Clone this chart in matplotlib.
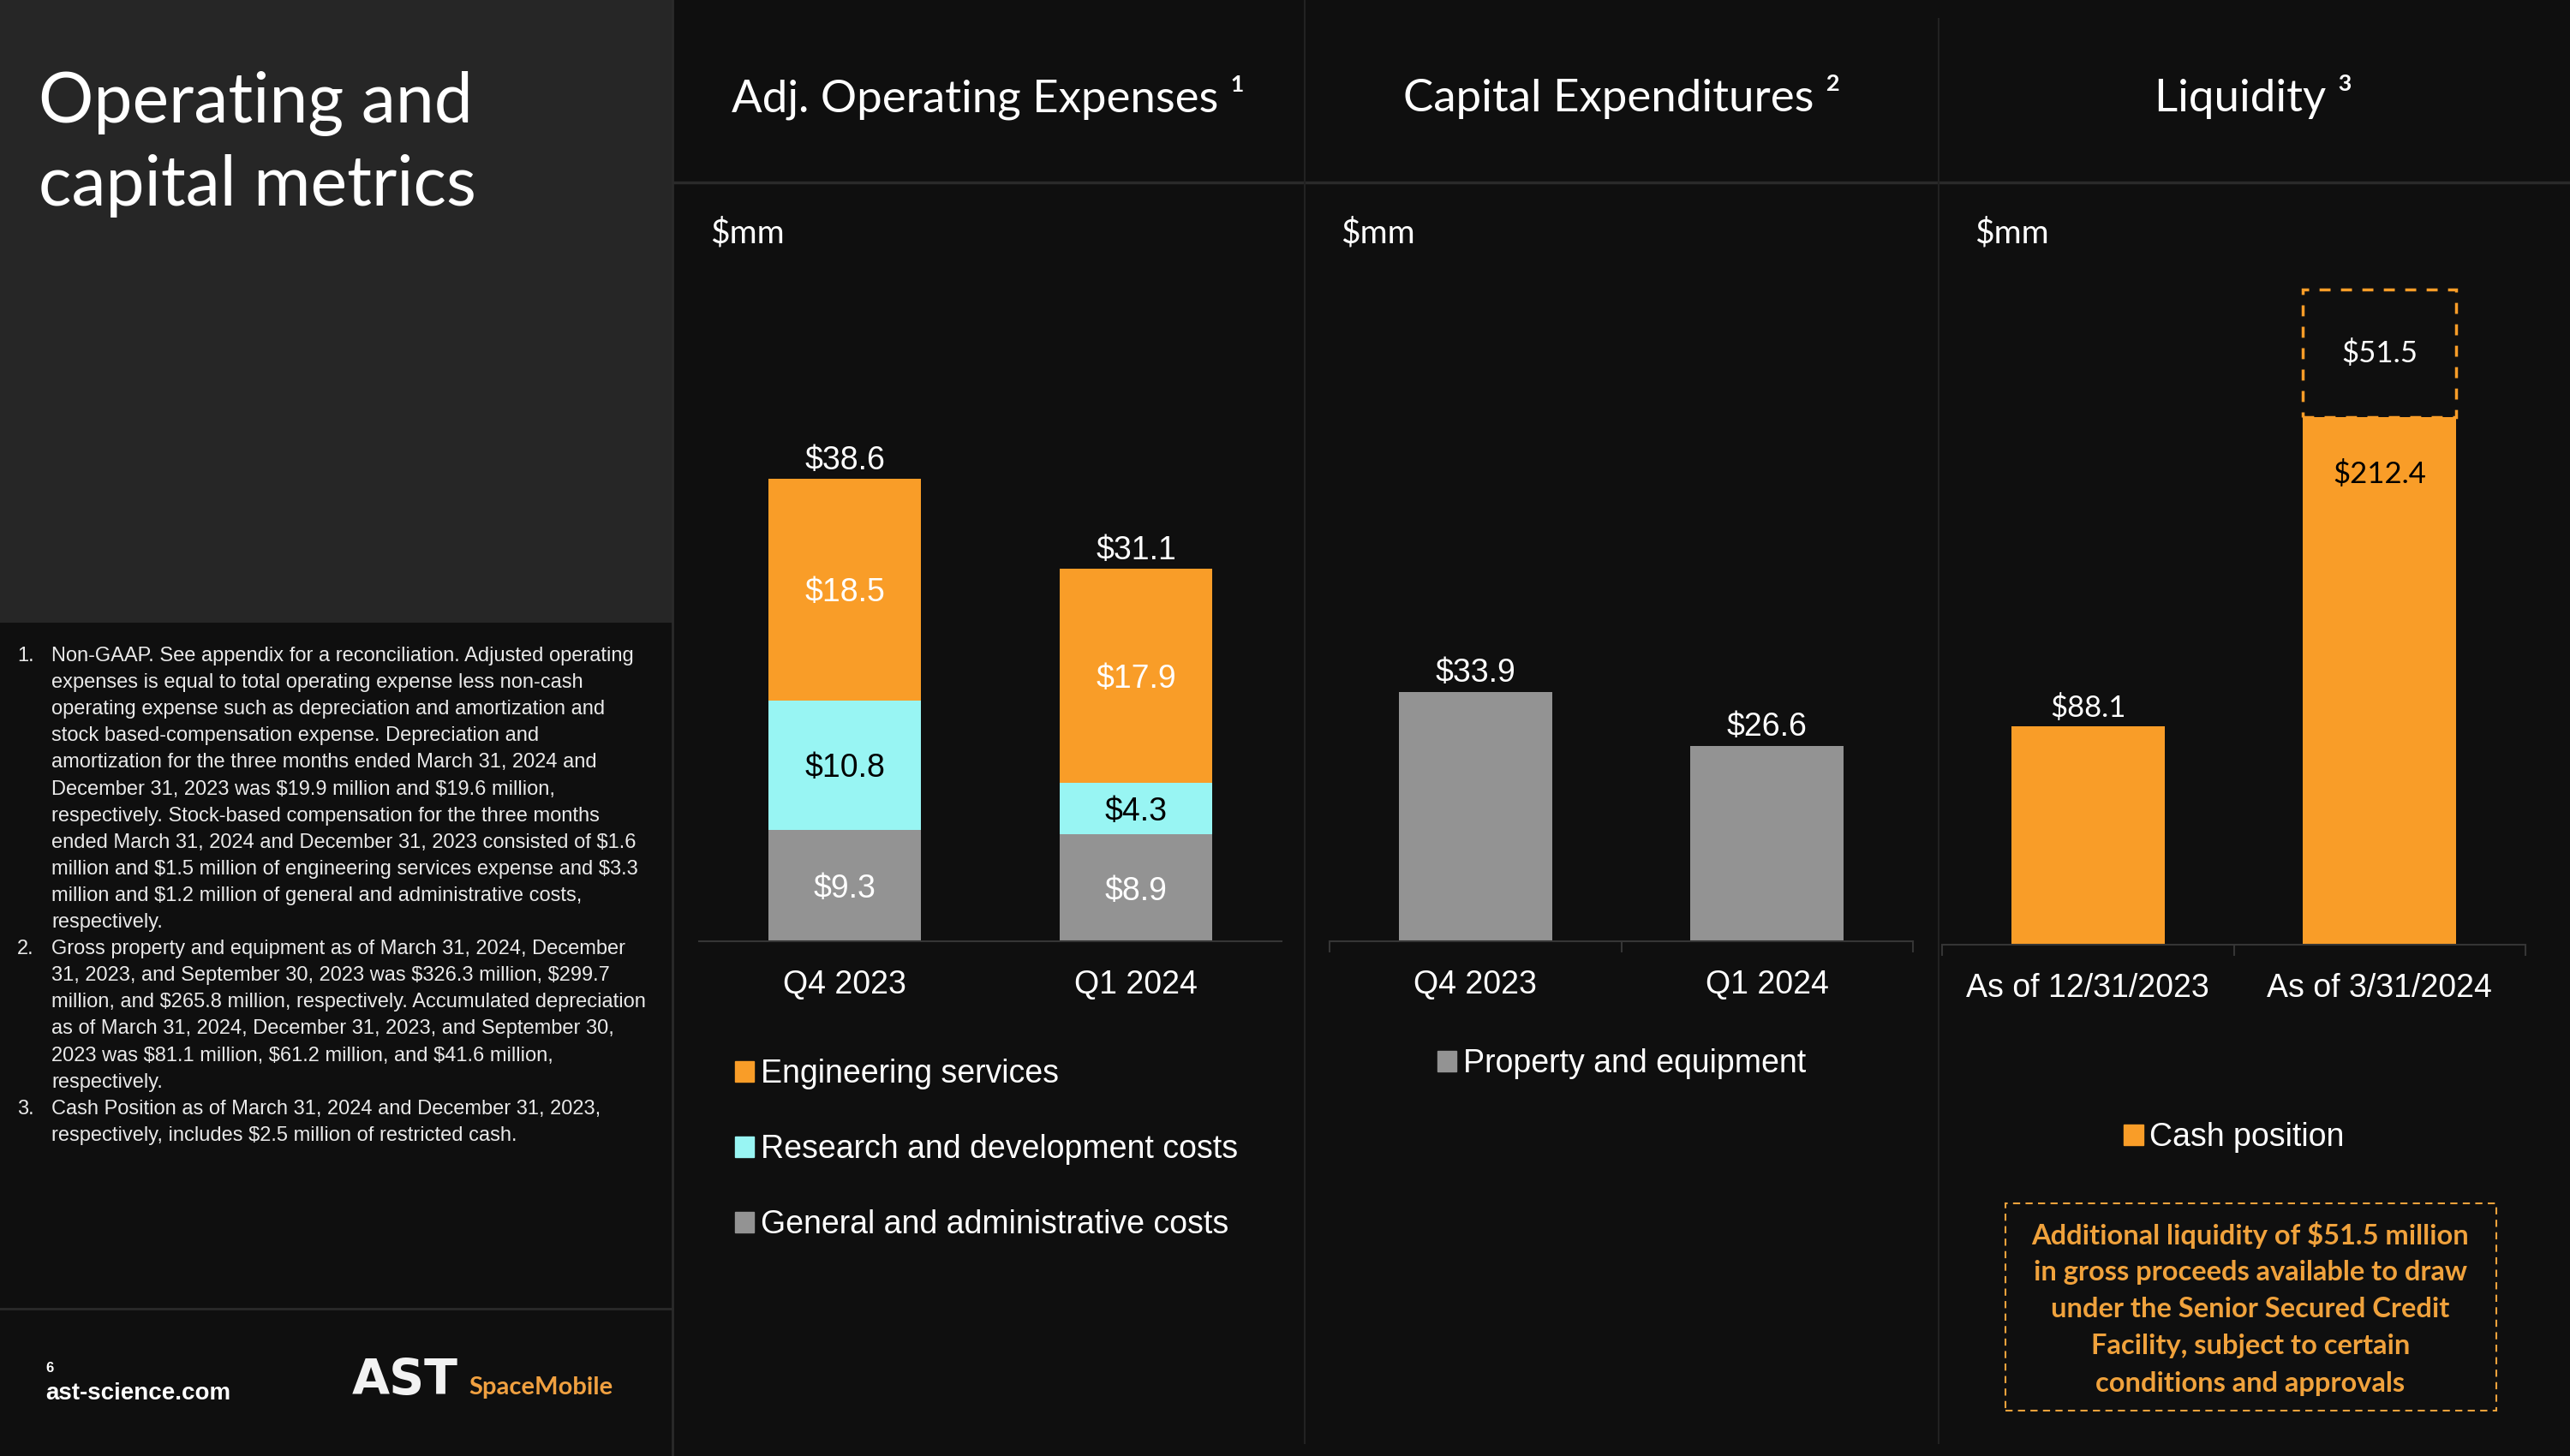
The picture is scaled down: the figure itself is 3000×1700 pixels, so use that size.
import numpy as np
import matplotlib.pyplot as plt
from matplotlib.patches import Rectangle, Patch
from matplotlib.lines import Line2D

plt.rcParams['text.parse_math'] = False

# ---- data ----
opex_quarters = ['Q4 2023', 'Q1 2024']
opex_ga = [9.3, 8.9]      # general and administrative
opex_rd = [10.8, 4.3]     # research and development
opex_eng = [18.5, 17.9]   # engineering services
opex_total = [38.6, 31.1]

capex_quarters = ['Q4 2023', 'Q1 2024']
capex_ppe = [33.9, 26.6]

cash_dates = ['As of 12/31/2023', 'As of 3/31/2024']
cash_position = [88.1, 212.4]
credit_facility = 51.5    # additional liquidity on top of the 3/31/2024 bar

footnotes = [
    ('1.', ['Non-GAAP. See appendix for a reconciliation. Adjusted operating',
            'expenses is equal to total operating expense less non-cash',
            'operating expense such as depreciation and amortization and',
            'stock based-compensation expense. Depreciation and',
            'amortization for the three months ended March 31, 2024 and',
            'December 31, 2023 was $19.9 million and $19.6 million,',
            'respectively. Stock-based compensation for the three months',
            'ended March 31, 2024 and December 31, 2023 consisted of $1.6',
            'million and $1.5 million of engineering services expense and $3.3',
            'million and $1.2 million of general and administrative costs,',
            'respectively.']),
    ('2.', ['Gross property and equipment as of March 31, 2024, December',
            '31, 2023, and September 30, 2023 was $326.3 million, $299.7',
            'million, and $265.8 million, respectively. Accumulated depreciation',
            'as of March 31, 2024, December 31, 2023, and September 30,',
            '2023 was $81.1 million, $61.2 million, and $41.6 million,',
            'respectively.']),
    ('3.', ['Cash Position as of March 31, 2024 and December 31, 2023,',
            'respectively, includes $2.5 million of restricted cash.']),
]

box_lines = ['Additional liquidity of $51.5 million',
             'in gross proceeds available to draw',
             'under the Senior Secured Credit',
             'Facility, subject to certain',
             'conditions and approvals']

# ---- style ----
BG = '#0F0F0F'
PANEL = '#262626'
LINE = '#2A2A2A'
ORANGE = '#F99D28'
CYAN = '#98F5F3'
GRAY = '#939393'
BOX_ORANGE = '#F0A23C'
SEGOE = 'Lato'
ARIAL = 'Liberation Sans'

W, H = 3000, 1700
fig = plt.figure(figsize=(30, 17), dpi=100, facecolor=BG)


def fx(x):
    return x / W


def fy(y):
    return 1 - y / H


def hline(y, x0, x1, lw=2, color=LINE):
    fig.add_artist(Line2D([fx(x0), fx(x1)], [fy(y), fy(y)], color=color, lw=lw,
                          transform=fig.transFigure))


def vline(x, y0, y1, lw=2, color=LINE):
    fig.add_artist(Line2D([fx(x), fx(x)], [fy(y0), fy(y1)], color=color, lw=lw,
                          transform=fig.transFigure))


# left title panel
fig.add_artist(Rectangle((0, fy(727)), fx(785), 727 / H, transform=fig.transFigure,
                         facecolor=PANEL, edgecolor='none', zorder=0))
vline(785, 0, 1700)
hline(1528, 0, 785)
hline(213, 785, 3000, lw=2.5)
vline(1523, 0, 1685, lw=1.5, color='#222222')
vline(2263, 22, 1685, lw=1.5, color='#222222')

fig.text(fx(45), fy(143), 'Operating and', fontsize=58, color='white', family=SEGOE,
         va='baseline')
fig.text(fx(45), fy(240), 'capital metrics', fontsize=58, color='white', family=SEGOE,
         va='baseline')

# footnotes
row = 0
for num, lines in footnotes:
    for i, ln in enumerate(lines):
        y = 766 + row * 31.1
        if i == 0:
            fig.text(fx(20), fy(y), num, fontsize=17, color='#EAEAEA', family=ARIAL, va='center')
        fig.text(fx(60), fy(y), ln, fontsize=17, color='#EAEAEA', family=ARIAL, va='center')
        row += 1

# footer
fig.text(fx(53), fy(1597), '6', fontsize=12, color='white', family=ARIAL, weight='bold', va='center')
fig.text(fx(53), fy(1627), 'ast-science.com', fontsize=20, color='white', family=ARIAL,
         weight='bold', va='center')
fig.text(fx(411), fy(1628), 'AST', fontsize=41, color='#F2F2F2', family='DejaVu Sans',
         weight='bold', va='baseline')
fig.text(fx(547), fy(1628), 'SpaceMobile', fontsize=21, color='#F0A040', family=SEGOE,
         weight='bold', va='baseline')

# panel headers
for cx, title in [(1154, 'Adj. Operating Expenses ¹'), (1893, 'Capital Expenditures ²'),
                  (2631, 'Liquidity ³')]:
    fig.text(fx(cx), fy(130), title, fontsize=38, color='white', family=SEGOE,
             ha='center', va='baseline')
for x in [829, 1565, 2305]:
    fig.text(fx(x), fy(283), '$mm', fontsize=28, color='white', family=SEGOE,
             va='baseline')


def make_ax(left, right, base, top):
    ax = fig.add_axes([fx(left), fy(base), (right - left) / W, (base - top) / H])
    ax.set_facecolor('none')
    for s in ['top', 'left', 'right']:
        ax.spines[s].set_visible(False)
    ax.spines['bottom'].set_color('#353535')
    ax.spines['bottom'].set_linewidth(1.5)
    ax.set_yticks([])
    ax.set_xlim(-0.5, 1.5)
    ax.tick_params(axis='x', which='major', length=0, pad=24, labelsize=27,
                   labelcolor='white')
    return ax


def inside_labels(ax, bars, values, color):
    # value written in the middle of each segment
    for rect, v in zip(bars, values):
        cx = rect.get_x() + rect.get_width() / 2
        cy = rect.get_y() + rect.get_height() / 2
        ax.annotate(f'${v:.1f}', xy=(cx, cy), xytext=(0, -3), textcoords='offset points',
                    ha='center', va='center', color=color, fontsize=27, family=ARIAL)


x = np.arange(2)
bw = 0.525

# ---- panel 1: adjusted operating expenses ----
ax1 = make_ax(816, 1496, 1099, 259)
ax1.set_ylim(0, 840 / 14.0)
b_ga = ax1.bar(x, opex_ga, bw, color=GRAY)
b_rd = ax1.bar(x, opex_rd, bw, bottom=opex_ga, color=CYAN)
bottom_eng = np.array(opex_ga) + np.array(opex_rd)
b_eng = ax1.bar(x, opex_eng, bw, bottom=bottom_eng, color=ORANGE)
lab = dict(fontsize=27, family=ARIAL)
inside_labels(ax1, b_ga, opex_ga, 'white')
inside_labels(ax1, b_rd, opex_rd, 'black')
inside_labels(ax1, b_eng, opex_eng, 'white')
ax1.bar_label(b_eng, labels=[f'${v:.1f}' for v in opex_total], padding=2, color='white', **lab)
ax1.set_xticks(x)
ax1.set_xticklabels(opex_quarters, family=ARIAL)
ax1.legend(handles=[Patch(color=ORANGE, label='Engineering services'),
                    Patch(color=CYAN, label='Research and development costs'),
                    Patch(color=GRAY, label='General and administrative costs')],
           loc='upper left', bbox_to_anchor=(fx(858), fy(1236)), bbox_transform=fig.transFigure,
           frameon=False, prop={'family': ARIAL, 'size': 27}, labelcolor='white',
           handlelength=0.6, handleheight=0.6, handletextpad=0.2, labelspacing=1.39,
           borderpad=0, borderaxespad=0)

# ---- panel 2: capital expenditures ----
ax2 = make_ax(1552, 2233, 1099, 259)
ax2.set_ylim(0, 840 / 8.58)
b_cap = ax2.bar(x, capex_ppe, bw, color=GRAY)
ax2.bar_label(b_cap, labels=[f'${v:.1f}' for v in capex_ppe], padding=3, color='white', **lab)
ax2.set_xticks(x)
ax2.set_xticklabels(capex_quarters, family=ARIAL)
ax2.set_xticks([-0.5, 0.5, 1.5], minor=True)
ax2.tick_params(axis='x', which='minor', length=9, width=1.5, color='#353535')
ax2.legend(handles=[Patch(color=GRAY, label='Property and equipment')],
           loc='upper center', bbox_to_anchor=(fx(1893), fy(1224)), bbox_transform=fig.transFigure,
           frameon=False, prop={'family': ARIAL, 'size': 27}, labelcolor='white',
           handlelength=0.6, handleheight=0.6, handletextpad=0.2, borderpad=0, borderaxespad=0)

# ---- panel 3: liquidity ----
ax3 = make_ax(2267, 2948, 1103, 230)
ax3.set_ylim(0, 873 / 2.9)
b_cash = ax3.bar(x, cash_position, bw, color=ORANGE)
ax3.bar([1], [credit_facility], bw, bottom=cash_position[1], fill=False, edgecolor=ORANGE,
        linewidth=2.5, linestyle=(0, (3.7, 3.5)))
ax3.bar_label(b_cash, labels=[f'${cash_position[0]:.1f}', ''], padding=3, color='white',
              fontsize=25, family=SEGOE)
ax3.annotate(f'${cash_position[1]:.1f}', xy=(1, cash_position[1]), xytext=(0, -48),
             textcoords='offset points', ha='center', va='center', color='black',
             fontsize=25, family=SEGOE)
ax3.text(1, cash_position[1] + credit_facility / 2, f'${credit_facility:.1f}', ha='center',
         va='center', color='white', fontsize=25, family=SEGOE)
ax3.set_xticks(x)
ax3.set_xticklabels(cash_dates, family=ARIAL)
ax3.set_xticks([-0.5, 0.5, 1.5], minor=True)
ax3.tick_params(axis='x', which='minor', length=9, width=1.5, color='#353535')
ax3.legend(handles=[Patch(color=ORANGE, label='Cash position')],
           loc='upper center', bbox_to_anchor=(fx(2608), fy(1310)), bbox_transform=fig.transFigure,
           frameon=False, prop={'family': ARIAL, 'size': 27}, labelcolor='white',
           handlelength=0.6, handleheight=0.6, handletextpad=0.2, borderpad=0, borderaxespad=0)

# additional liquidity note
fig.add_artist(Rectangle((fx(2341), fy(1647)), (2914 - 2341) / W, (1647 - 1405) / H,
                         transform=fig.transFigure, fill=False, edgecolor=BOX_ORANGE,
                         linewidth=1.5, linestyle=(0, (4, 3))))
for i, ln in enumerate(box_lines):
    fig.text(fx(2627), fy(1442 + i * 43.3), ln, fontsize=23.5, color=BOX_ORANGE,
             family=SEGOE, weight='bold', ha='center', va='center')

fig.savefig('out.png', dpi=100, facecolor=BG)
